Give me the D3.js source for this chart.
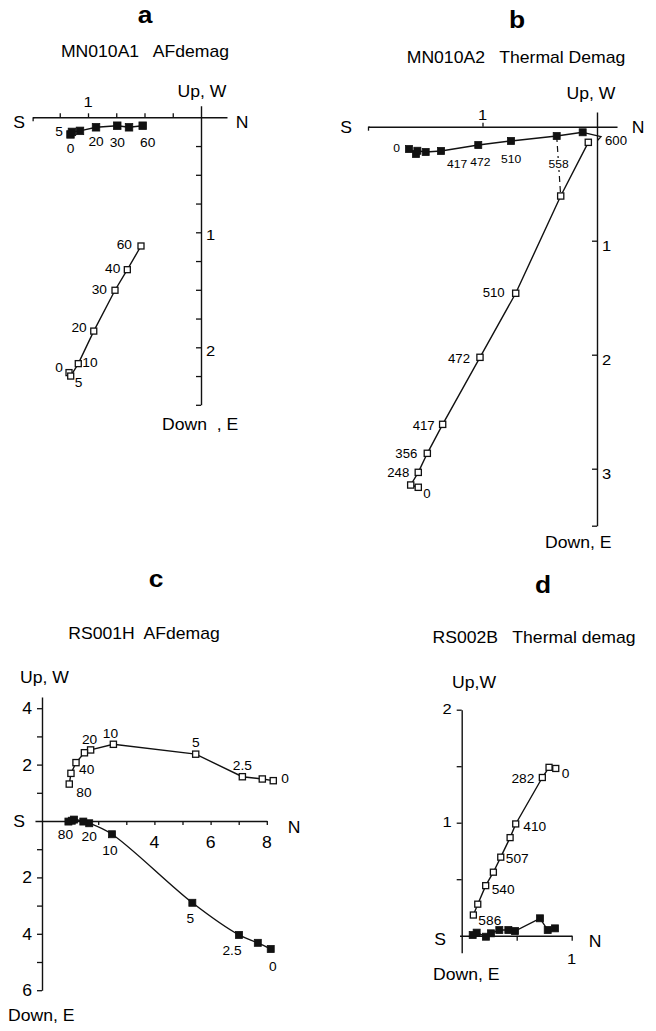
<!DOCTYPE html>
<html><head><meta charset="utf-8">
<script src="https://cdn.jsdelivr.net/npm/d3@7"></script>
<style>
html,body{margin:0;padding:0;background:#fff;}
svg text{font-family:"Liberation Sans",Arial,Helvetica,sans-serif;fill:#000;white-space:pre;}
</style></head><body>
<svg id="chart" width="656" height="1031"></svg>
<script>
// ================= DATA =================
// Panel a : MN010A1 AF demag (step labels, horizontal projection = filled, vertical projection = open)
const aSteps = ["0","5","10","20","30","40","60"];
const aHorX  = [-1.155,-1.142,-1.071,-0.929,-0.741,-0.637,-0.516];
const aHorY  = [-0.149,-0.127,-0.118,-0.087,-0.073,-0.087,-0.073];
const aVerX  = [-1.168,-1.153,-1.086,-0.949,-0.761,-0.652,-0.531];
const aVerY  = [-2.220,-2.250,-2.142,-1.859,-1.504,-1.325,-1.119];

// Panel b : MN010A2 Thermal demag
const bSteps = ["0","","248","356","417","472","510","558","600"];
const bHorX  = [-1.642,-1.581,-1.569,-1.496,-1.362,-1.037,-0.751,-0.352,-0.125];
const bHorY  = [-0.196,-0.239,-0.211,-0.222,-0.213,-0.161,-0.125,-0.082,-0.049];
const bVerX  = [-1.561,-1.627,-1.561,-1.482,-1.348,-1.022,-0.710,-0.317,-0.076];
const bVerY  = [-3.163,-3.143,-3.032,-2.865,-2.611,-2.023,-1.461,-0.608,-0.137];

// Panel c : RS001H AF demag
const cSteps = ["0","","2.5","5","10","20","","40","","80"];
const cHorX  = [8.14,7.68,7.01,5.35,2.49,1.68,1.47,1.14,1.06,0.94];
const cHorY  = [-4.54,-4.32,-4.04,-2.90,-0.47,-0.08,-0.02,0.05,0.01,-0.02];
const cVerX  = [8.23,7.84,7.13,5.47,2.54,1.73,1.51,1.21,1.03,0.97];
const cVerY  = [1.43,1.49,1.57,2.37,2.72,2.52,2.42,2.07,1.69,1.31];

// Panel d : RS002B Thermal demag
const dSteps = ["0","","282","410","","507","","540","","586"];
const dHorX  = [0.848,0.782,0.712,0.485,0.424,0.342,0.266,0.220,0.136,0.100];
const dHorY  = [0.065,0.050,0.154,0.041,0.050,0.050,0.021,-0.009,0.027,0.006];
const dVerX  = [0.855,0.794,0.733,0.491,0.440,0.355,0.288,0.218,0.146,0.106];
const dVerY  = [1.480,1.490,1.400,0.989,0.868,0.695,0.562,0.443,0.279,0.183];

// axis tick values
const aHTicks = [-1.25,-1,-0.75,-0.5,-0.25];
const aVTicks = [-0.25,-0.5,-0.75,-1,-1.25,-1.5,-1.75,-2,-2.25,-2.5];
const bHTicks = [-1];
const bVTicks = [-1,-2,-3,-3.5];
const cHTicks = [1,2,3,4,5,6,7,8];
const cVTicks = [4,3,2,1,-1,-2,-3,-4,-5,-6];
const dHTicks = [0.5,1];
const dVTicks = [2,1.5,1,0.5];

// ================= DRAW =================
const SX = 1.1;
const INK = "#111";
const svg = d3.select("#chart");
svg.append("rect").attr("width",656).attr("height",1031).attr("fill","#fff");

function label(g, x, y, s, size, anchor, weight){
  return g.append("text")
    .attr("transform", `translate(${x},${y}) scale(${SX},1)`)
    .attr("text-anchor", anchor || "start")
    .style("font-size", size + "px")
    .style("font-weight", weight || "normal")
    .text(s);
}
function scales(ox, oy, kx, ky){
  return {
    x: d3.scaleLinear().domain([0,1]).range([ox, ox+kx]),
    y: d3.scaleLinear().domain([0,1]).range([oy, oy-ky])
  };
}
function axis(g, sc, orient, extent, ticks, size, pos){
  const s = sc.copy().domain(extent).range(extent.map(sc));
  const ax = d3[orient](s).tickValues(ticks).tickSize(size).tickSizeOuter(0).tickFormat("");
  const horiz = orient === "axisTop" || orient === "axisBottom";
  const gg = g.append("g")
    .attr("transform", horiz ? `translate(0,${pos})` : `translate(${pos},0)`)
    .call(ax);
  gg.select(".domain").attr("stroke", INK).attr("stroke-width", 1.4);
  gg.selectAll(".tick line").attr("stroke", INK).attr("stroke-width", 1.3);
  gg.selectAll(".tick text").remove();
}
function series(g, S, steps, xs, ys, filled, size, curve, offsets, fsize){
  const pts = xs.map((x,i) => ({x:x, y:ys[i], s:steps[i]}));
  const line = d3.line().x(d => S.x(d.x)).y(d => S.y(d.y)).curve(curve || d3.curveLinear);
  g.append("path").datum(pts).attr("d", line)
    .attr("fill","none").attr("stroke",INK).attr("stroke-width",1.4);
  g.selectAll(null).data(pts).enter().append("rect")
    .attr("x", d => S.x(d.x) - size/2).attr("y", d => S.y(d.y) - size/2)
    .attr("width", size).attr("height", size)
    .attr("fill", filled ? INK : "#fff")
    .attr("stroke", INK).attr("stroke-width", filled ? 0.8 : 1.3);
  pts.forEach(d => {
    const o = offsets[d.s];
    if (!d.s || !o) return;
    const t = label(g, S.x(d.x) + o[1], S.y(d.y) + o[2], d.s, fsize, o[0]);
    if (o[3]) t.attr("stroke","#fff").attr("stroke-width",4).attr("paint-order","stroke");
  });
}

// ---------- panel a ----------
{
  const g = svg.append("g");
  const S = scales(201, 117.3, 113, 115);
  label(g, 145, 23, "a", 24, "middle", "bold");
  label(g, 145, 57, "MN010A1   AFdemag", 16, "middle");
  axis(g, S.x, "axisTop", [-1.49, 0.23], aHTicks, 4, S.y(0));
  axis(g, S.x, "axisBottom", [-1.49, -1.48], [-1.49], 4, S.y(0));
  axis(g, S.y, "axisLeft", [0.1, -2.5], aVTicks, 5, S.x(0));
  label(g, 202, 97, "Up, W", 16, "middle");
  label(g, 19, 128, "S", 16, "middle");
  label(g, 242, 128, "N", 16, "middle");
  label(g, S.x(-1), S.y(0) - 10, "1", 15, "middle");
  label(g, S.x(0) + 5, S.y(-1) + 8, "1", 15, "start");
  label(g, S.x(0) + 5, S.y(-2) + 9, "2", 15, "start");
  label(g, 162, 430, "Down  , E", 16, "start");
  series(g, S, aSteps, aHorX, aHorY, true, 7.5, null,
    {"0":["middle",0,18.5],"5":["end",-9,3.7],"20":["middle",0,19],"30":["middle",0,21],"60":["middle",5,21]}, 12.5);
  series(g, S, aSteps, aVerX, aVerY, false, 6, null,
    {"60":["end",-9,3],"40":["end",-7,3.5],"30":["end",-8,3.5],"20":["end",-7,0.5],"10":["start",4,3.5],"0":["end",-6,-1],"5":["start",4,11]}, 12.5);
}

// ---------- panel b ----------
{
  const g = svg.append("g");
  const S = scales(597, 126.7, 114.5, 114);
  label(g, 517, 28, "b", 24, "middle", "bold");
  label(g, 516, 63, "MN010A2   Thermal Demag", 16, "middle");
  axis(g, S.x, "axisTop", [-2.0, 0.175], bHTicks, 4, S.y(0));
  axis(g, S.x, "axisBottom", [-2.0, -1.99], [-2.0], 4, S.y(0));
  axis(g, S.y, "axisLeft", [0.13, -3.5], bVTicks, 5, S.x(0));
  label(g, 591, 99, "Up, W", 16, "middle");
  label(g, 346, 133, "S", 16, "middle");
  label(g, 638, 133, "N", 16, "middle");
  label(g, S.x(-1), S.y(0) - 7, "1", 15, "middle");
  [-1,-2,-3].forEach((v,i) => label(g, S.x(0) + 5, S.y(v) + 10, String(i+1), 15, "start"));
  label(g, 545, 548, "Down, E", 16, "start");
  // dashed connector for step 558
  const i558 = bSteps.indexOf("558");
  g.append("line")
    .attr("x1", S.x(bHorX[i558])).attr("y1", S.y(bHorY[i558]))
    .attr("x2", S.x(bVerX[i558])).attr("y2", S.y(bVerY[i558]))
    .attr("stroke", INK).attr("stroke-width", 1.2).attr("stroke-dasharray","6,4");
  // arrow near 600
  const i600 = bSteps.indexOf("600");
  const px = S.x(bHorX[i600]), py = S.y(bHorY[i600]);
  g.append("path")
    .attr("d", `M${px},${py} L${px+18.3},${py+4.4} L${px+15},${py+8}`)
    .attr("fill","none").attr("stroke",INK).attr("stroke-width",1.3);
  series(g, S, bSteps, bHorX, bHorY, true, 7, null,
    {"0":["end",-9,2.7],"417":["start",6,17],"472":["middle",2,21],"510":["middle",0,22],"558":["middle",2,32,true]}, 11);
  series(g, S, bSteps, bVerX, bVerY, false, 6.2, null,
    {"0":["start",5,10.7],"248":["end",-9,5],"356":["end",-10,4.4],"417":["end",-8,5.7],"472":["end",-10,5.4],"510":["end",-11,3.4],"600":["start",16.7,3]}, 12);
}

// ---------- panel c ----------
{
  const g = svg.append("g");
  const S = scales(42, 821, 28.1, 28.2);
  label(g, 156, 587, "c", 24, "middle", "bold");
  label(g, 144, 639, "RS001H  AFdemag", 16, "middle");
  axis(g, S.x, "axisBottom", [-0.25, 8], cHTicks, 4, S.y(0));
  axis(g, S.y, "axisLeft", [4.4, -6], cVTicks, 5, S.x(0));
  label(g, 20, 683, "Up, W", 16, "start");
  label(g, 19, 827, "S", 16, "middle");
  label(g, 294, 833, "N", 16, "middle");
  [4,2,-2,-4,-6].forEach(v => label(g, S.x(0) - 10, S.y(v) + 6, String(Math.abs(v)), 16, "end"));
  [4,6,8].forEach(v => label(g, S.x(v), S.y(0) + 27, String(v), 16, "middle"));
  label(g, 8, 1021, "Down, E", 16, "start");
  series(g, S, cSteps, cHorX, cHorY, true, 7, d3.curveCatmullRom.alpha(0.5),
    {"80":["middle",-3,17.6],"20":["middle",0,17.4],"10":["middle",-2,21],"5":["middle",-2,20],"2.5":["middle",-7,20],"0":["middle",2,22]}, 12.5);
  series(g, S, cSteps, cVerX, cVerY, false, 6.2, null,
    {"80":["start",7,13],"40":["start",3,11],"20":["middle",-1,-6],"10":["middle",-3,-6],"5":["middle",0,-7.6],"2.5":["middle",0,-6.7],"0":["start",8,2.6]}, 12.5);
}

// ---------- panel d ----------
{
  const g = svg.append("g");
  const S = scales(461.7, 935.7, 110, 113);
  label(g, 543, 593, "d", 24, "middle", "bold");
  label(g, 534, 643, "RS002B   Thermal demag", 16, "middle");
  axis(g, S.x, "axisBottom", [-0.02, 1], dHTicks, 5, S.y(0));
  axis(g, S.y, "axisLeft", [2, -0.15], dVTicks, 5, S.x(0));
  label(g, 474, 688, "Up,W", 16, "middle");
  label(g, 440, 945, "S", 16, "middle");
  label(g, 595, 947, "N", 16, "middle");
  label(g, S.x(0) - 10, S.y(2) + 4, "2", 15, "end");
  label(g, S.x(0) - 10, S.y(1) + 4, "1", 15, "end");
  label(g, S.x(1), S.y(0) + 28, "1", 15, "middle");
  label(g, 433, 980, "Down, E", 16, "start");
  series(g, S, dSteps, dHorX, dHorY, true, 7, null, {}, 12.5);
  series(g, S, dSteps, dVerX, dVerY, false, 6, null,
    {"0":["start",6,10],"282":["end",-8,5.4],"410":["start",7.6,6.7],"507":["start",5,6],"540":["start",6,8.3],"586":["start",5,10]}, 12.5);
}
</script>
</body></html>
